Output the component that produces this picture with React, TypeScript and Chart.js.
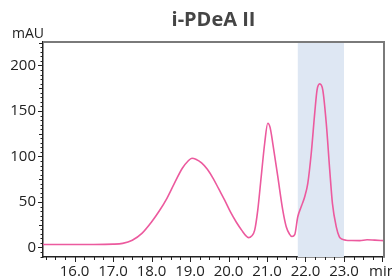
import React, { useEffect, useRef } from "react";
import { Chart, registerables } from "chart.js";

Chart.register(...registerables);

const chartTitle = "i-PDeA II";
const yUnit = "mAU";
const xUnitLabel = "min";

const times = [
  15.18, 16.0, 16.5, 17.0, 17.25, 17.5, 17.75, 18.0, 18.2, 18.4, 18.6, 18.8, 18.95, 19.05,
  19.15, 19.3, 19.45, 19.6, 19.75, 19.9, 20.05, 20.2, 20.35, 20.45, 20.52, 20.6, 20.68, 20.76,
  20.85, 20.94, 21.02, 21.08, 21.15, 21.28, 21.41, 21.5, 21.58, 21.65, 21.72, 21.8, 21.9,
  21.98, 22.06, 22.15, 22.24, 22.3, 22.37, 22.45, 22.54, 22.63, 22.7, 22.8, 22.88, 22.96,
  23.05, 23.2, 23.41, 23.6, 23.8, 24.04,
];
const signal = [
  3.3, 3.3, 3.3, 3.6, 4.5, 8, 15.5, 28, 40, 54, 71, 87, 95, 98,
  97, 93, 86, 76, 64, 52, 39, 28, 18.5, 13, 10.8, 12.5, 19, 41,
  78, 114.5, 136.5, 132, 114.5, 78, 41, 22.7, 15, 12, 14, 33.7, 46,
  55.7, 70.5, 103.5, 147.6, 173, 179.8, 173, 136.5, 85, 48.5, 22.7, 11.7, 9,
  8, 7.6, 7.5, 8.4, 8, 7.5,
];

const shadeStart = 21.8;
const shadeEnd = 23.0;

const xMin = 15.18;
const xMax = 24.04;
const yMin = -10.5;
const yMax = 225.8;

const FONT = "'Open Sans', 'Noto Sans', sans-serif";

export default function App() {
  const ref = useRef<HTMLCanvasElement | null>(null);

  useEffect(() => {
    if (!ref.current) return;

    const decor = {
      id: "decor",
      beforeDatasetsDraw(chart: any) {
        const { ctx, chartArea, scales } = chart;
        const x = scales.x;
        const x0 = x.getPixelForValue(shadeStart);
        const x1 = x.getPixelForValue(shadeEnd);
        ctx.save();
        ctx.fillStyle = "#dee7f3";
        ctx.fillRect(x0, chartArea.top, x1 - x0, chartArea.bottom - chartArea.top);
        ctx.restore();
      },
      afterDraw(chart: any) {
        const { ctx, chartArea, scales } = chart;
        const x = scales.x;
        const y = scales.y;
        ctx.save();
        ctx.strokeStyle = "#7a7a7a";
        ctx.lineWidth = 2;
        ctx.beginPath();
        ctx.moveTo(chartArea.left, chartArea.top);
        ctx.lineTo(chartArea.right, chartArea.top);
        ctx.lineTo(chartArea.right, chartArea.bottom);
        ctx.stroke();
        ctx.strokeStyle = "#222";
        ctx.lineWidth = 1;
        for (let v = Math.ceil(xMin / 0.25) * 0.25; v <= xMax + 1e-9; v += 0.25) {
          const px = Math.round(x.getPixelForValue(v)) + 0.5;
          const major = Math.abs(v - Math.round(v)) < 1e-6;
          const len = major ? 5 : 3;
          ctx.beginPath();
          ctx.moveTo(px, chartArea.bottom);
          ctx.lineTo(px, chartArea.bottom + len);
          ctx.stroke();
        }
        for (let v = Math.ceil(yMin / 5) * 5; v <= yMax + 1e-9; v += 5) {
          const py = Math.round(y.getPixelForValue(v)) + 0.5;
          const len = v % 50 === 0 ? 5 : v % 25 === 0 ? 4 : 2.5;
          ctx.beginPath();
          ctx.moveTo(chartArea.left, py);
          ctx.lineTo(chartArea.left - len, py);
          ctx.stroke();
        }
        ctx.fillStyle = "#454545";
        ctx.font = `bold 20px ${FONT}`;
        ctx.textAlign = "center";
        ctx.textBaseline = "alphabetic";
        ctx.fillText(chartTitle, (chartArea.left + chartArea.right) / 2, 26);
        ctx.fillStyle = "#222";
        ctx.font = `14px ${FONT}`;
        ctx.textAlign = "left";
        ctx.fillText(yUnit, 12, 38);
        ctx.restore();
      },
    };

    const chart = new Chart(ref.current, {
      type: "line",
      data: {
        datasets: [
          {
            data: times.map((t, i) => ({ x: t, y: signal[i] })),
            borderColor: "#ec5a9e",
            borderWidth: 1.6,
            pointRadius: 0,
            cubicInterpolationMode: "monotone",
            fill: false,
          },
        ],
      },
      options: {
        animation: false,
        responsive: false,
        devicePixelRatio: 1,
        layout: { padding: { left: 0, right: 8, top: 42, bottom: 0 } },
        plugins: { legend: { display: false }, tooltip: { enabled: false }, title: { display: false } },
        scales: {
          x: {
            type: "linear",
            min: xMin,
            max: xMax,
            afterFit: (s: any) => {
              s.height = 22;
              s.paddingRight = 0;
              s.paddingLeft = 0;
            },
            ticks: {
              stepSize: 1,
              includeBounds: false,
              maxRotation: 0,
              autoSkip: false,
              padding: 1,
              color: "#222",
              font: { family: FONT, size: 15 },
              callback: (v: any) => (Math.abs(v - 24) < 1e-6 ? xUnitLabel : Number(v).toFixed(1)),
            },
            grid: { display: true, drawOnChartArea: false, drawTicks: true, tickLength: 5, color: "transparent" },
            border: { display: true, color: "#222", width: 1.5 },
          },
          y: {
            type: "linear",
            min: yMin,
            max: yMax,
            afterFit: (s: any) => {
              s.width = 43;
              s.paddingTop = 0;
              s.paddingBottom = 0;
            },
            ticks: {
              stepSize: 50,
              includeBounds: false,
              padding: 2,
              color: "#222",
              font: { family: FONT, size: 15 },
            },
            grid: { display: true, drawOnChartArea: false, drawTicks: true, tickLength: 5, color: "transparent" },
            border: { display: true, color: "#222", width: 1.5 },
          },
        },
      },
      plugins: [decor],
    });

    return () => chart.destroy();
  }, []);

  return (
    <div style={{ position: "fixed", left: 0, top: 0, width: 392, height: 279, background: "#fff", overflow: "hidden" }}>
      <canvas ref={ref} width={392} height={279} style={{ width: 392, height: 279, display: "block" }} />
    </div>
  );
}
